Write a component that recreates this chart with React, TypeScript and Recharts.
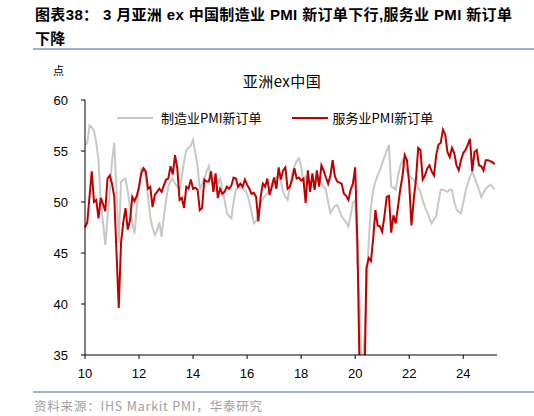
import { LineChart, Line, XAxis, YAxis } from 'recharts';

// monthly, Jan 2010 .. Mar 2025
const startYear = 2010;

const manufacturingNewOrders = [
  55.6, 55.8, 57.5, 57.3, 57.0, 55.8, 54.1, 50.0, 48.0, 45.8, 48.5, 51.0, // 2010
  54.0, 55.8, 51.0, 46.0, 52.0, 52.2, 52.3, 51.0, 49.5, 48.0, 46.9, 49.5, // 2011
  51.5, 53.3, 53.3, 52.5, 50.5, 48.5, 47.5, 46.8, 47.2, 48.0, 46.6, 48.5, // 2012
  50.2, 51.5, 52.0, 52.3, 51.8, 51.5, 51.2, 52.5, 54.0, 55.1, 55.3, 55.5, // 2013
  56.1, 54.8, 53.5, 51.2, 51.8, 52.2, 53.0, 53.5, 52.2, 51.8, 51.2, 51.8, // 2014
  52.3, 51.2, 50.2, 48.9, 48.6, 48.4, 50.0, 51.2, 51.4, 51.5, 51.3, 51.2, // 2015
  50.8, 50.0, 49.0, 47.9, 48.1, 49.0, 49.9, 50.3, 50.6, 50.8, 51.3, 51.8, // 2016
  52.3, 52.4, 52.5, 52.0, 51.0, 50.5, 50.2, 51.5, 52.8, 53.5, 54.0, 54.3, // 2017
  53.5, 51.8, 52.5, 52.2, 51.8, 51.5, 51.8, 52.0, 52.2, 51.8, 51.5, 51.2, // 2018
  50.0, 48.9, 49.3, 49.6, 49.7, 49.2, 48.6, 48.3, 48.0, 47.6, 48.7, 49.9, // 2019
  50.2, 44.0, 40.0, 33.0, 36.0, 41.0, 46.0, 49.5, 51.2, 52.0, 52.6, 53.1, // 2020
  53.8, 54.4, 55.0, 55.6, 51.5, 51.4, 51.2, 52.5, 53.5, 54.1, 53.5, 53.0, // 2021
  52.6, 52.4, 52.2, 51.8, 51.4, 51.0, 50.2, 49.5, 49.0, 48.4, 47.9, 48.3, // 2022
  48.6, 50.0, 51.2, 51.2, 51.1, 51.0, 51.2, 51.2, 50.0, 49.3, 49.0, 48.9, // 2023
  49.9, 51.0, 51.8, 52.5, 53.0, 52.4, 51.8, 51.2, 50.5, 50.9, 51.3, 51.5, // 2024
  51.7, 51.5, 51.2, // 2025
];

const servicesNewOrders = [
  47.5, 48.0, 50.5, 53.0, 50.0, 50.2, 48.4, 50.4, 49.8, 49.1, 52.3, 52.6, // 2010
  51.8, 50.5, 45.0, 39.6, 46.0, 48.0, 49.4, 47.3, 48.2, 50.5, 50.1, 50.6, // 2011
  51.5, 52.8, 53.3, 53.0, 51.3, 51.5, 49.5, 50.7, 51.0, 51.3, 51.0, 51.6, // 2012
  52.2, 52.3, 53.5, 52.7, 54.6, 53.3, 50.2, 50.4, 49.4, 51.5, 51.3, 52.2, // 2013
  51.3, 51.4, 51.2, 49.2, 49.4, 52.2, 52.0, 52.0, 53.0, 51.0, 52.8, 50.4, // 2014
  51.3, 50.8, 51.0, 51.5, 51.3, 51.6, 52.4, 52.3, 51.5, 51.8, 51.5, 52.2, // 2015
  51.7, 51.3, 50.8, 50.9, 50.5, 48.1, 50.5, 51.8, 51.5, 52.3, 50.7, 51.5, // 2016
  52.4, 51.3, 53.4, 52.2, 53.1, 53.4, 51.3, 51.5, 52.2, 53.3, 52.3, 52.4, // 2017
  52.1, 52.3, 49.9, 53.1, 51.0, 52.8, 51.2, 53.1, 51.5, 53.6, 53.1, 52.4, // 2018
  51.8, 52.6, 54.1, 52.5, 52.0, 51.9, 51.8, 50.8, 50.6, 50.2, 51.2, 51.8, // 2019
  53.4, 46.0, 33.0, 24.0, 30.0, 43.5, 44.5, 44.2, 46.4, 49.2, 47.7, 47.6, // 2020
  47.1, 48.6, 50.5, 50.6, 47.0, 48.7, 47.9, 49.5, 51.2, 52.5, 54.6, 54.1, // 2021
  51.8, 47.7, 50.2, 52.2, 55.3, 55.1, 52.2, 52.6, 53.3, 53.6, 53.0, 52.6, // 2022
  54.6, 55.6, 55.8, 57.1, 56.6, 54.9, 54.4, 55.3, 54.8, 53.6, 53.1, 54.1, // 2023
  54.8, 55.1, 55.6, 56.2, 53.0, 54.9, 55.1, 53.6, 53.5, 53.1, 54.1, 54.1, // 2024
  54.0, 53.9, 53.7, // 2025
];

const yTicks = [35, 40, 45, 50, 55, 60];
const xTickYears = [2010, 2012, 2014, 2016, 2018, 2020, 2022, 2024];

const data = manufacturingNewOrders.map((v, i) => ({
  t: i,
  period: `${startYear + Math.floor(i / 12)}-${String((i % 12) + 1).padStart(2, '0')}`,
  manufacturing: v,
  services: servicesNewOrders[i],
}));

const latin = '"Liberation Sans", Arial, "Noto Sans CJK SC", sans-serif';
const cjk = '"Noto Sans CJK SC", "Liberation Sans", sans-serif';
const tickStyle = { fontSize: 13, fill: '#000', fontFamily: latin };

export default function App() {
  return (
    <div style={{ position: 'absolute', left: 0, top: 0, width: 534, height: 416, background: '#fff', fontFamily: cjk }}>
      <div style={{ position: 'absolute', left: 35, top: 3, fontSize: 15, fontWeight: 'bold', lineHeight: '24px', letterSpacing: 0.35, whiteSpace: 'nowrap', color: '#000', fontFamily: latin }}>
        图表38： 3 月亚洲 ex 中国制造业 PMI 新订单下行,服务业 PMI 新订单
        <br />
        下降
      </div>
      <div style={{ position: 'absolute', left: 33, top: 48, width: 501, height: 2, background: '#9db3d6' }} />

      <div style={{ position: 'absolute', left: 53, top: 62, fontSize: 11, color: '#000' }}>点</div>
      <div style={{ position: 'absolute', left: 232, top: 70, width: 100, textAlign: 'center', fontSize: 15, color: '#000', letterSpacing: 0.5 }}>
        亚洲ex中国
      </div>

      {/* legend */}
      <div style={{ position: 'absolute', left: 117, top: 108, display: 'flex', alignItems: 'center', fontSize: 13, color: '#000', whiteSpace: 'nowrap' }}>
        <span style={{ display: 'inline-block', width: 36, height: 2, background: '#c8c8c8', marginRight: 8 }} />
        <span style={{ marginRight: 30 }}>制造业PMI新订单</span>
        <span style={{ display: 'inline-block', width: 36, height: 2, background: '#c00000', marginRight: 5 }} />
        <span>服务业PMI新订单</span>
      </div>

      <LineChart
        width={534}
        height={416}
        data={data}
        margin={{ top: 100, right: 37, bottom: 31, left: 0 }}
        style={{ position: 'absolute', left: 0, top: 0 }}
      >
        <XAxis
          type="number"
          dataKey="t"
          domain={[0, 183]}
          ticks={xTickYears.map((y) => (y - startYear) * 12)}
          tickFormatter={(v) => String((startYear + v / 12) % 100)}
          height={30}
          stroke="#000"
          tickSize={4}
          tickMargin={10}
          tick={tickStyle}
        />
        <YAxis
          type="number"
          domain={[35, 60]}
          ticks={yTicks}
          allowDataOverflow
          width={85}
          stroke="#000"
          tickSize={4}
          tickMargin={13}
          tick={tickStyle}
        />
        <Line
          type="linear"
          dataKey="manufacturing"
          stroke="#c8c8c8"
          strokeWidth={2}
          dot={false}
          isAnimationActive={false}
        />
        <Line
          type="linear"
          dataKey="services"
          stroke="#c00000"
          strokeWidth={2}
          dot={false}
          isAnimationActive={false}
        />
      </LineChart>

      <div style={{ position: 'absolute', left: 33, top: 391, width: 501, height: 2, background: '#9db3d6' }} />
      <div style={{ position: 'absolute', left: 34, top: 396, fontSize: 12.5, color: '#a0a0a0', letterSpacing: 0.8, whiteSpace: 'nowrap' }}>
        资料来源：IHS Markit PMI，华泰研究
      </div>
    </div>
  );
}
